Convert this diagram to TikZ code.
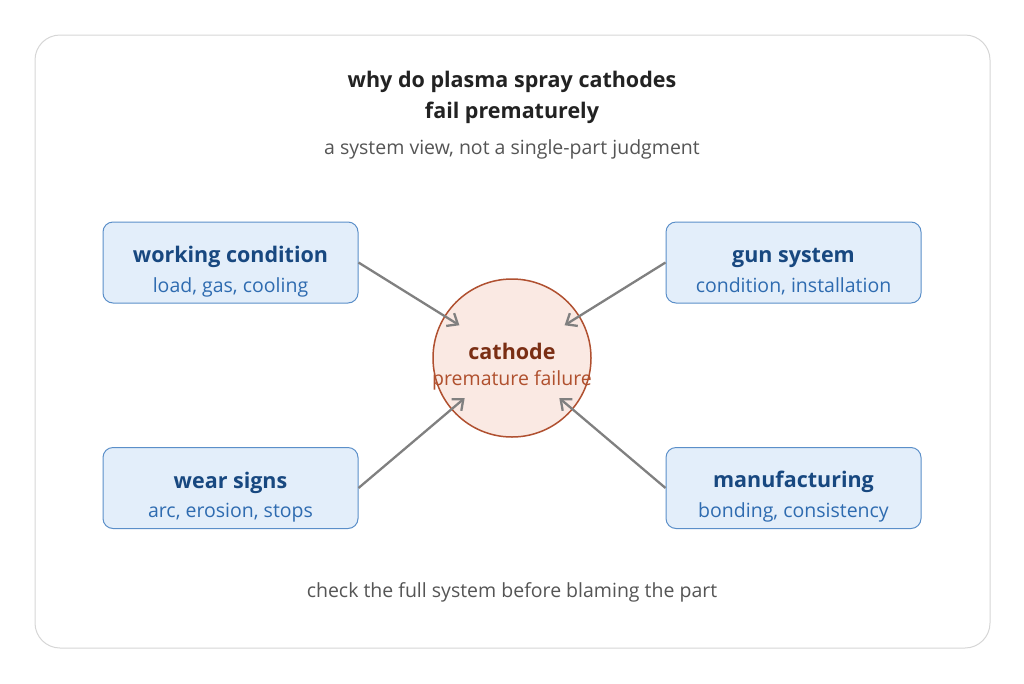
\documentclass[tikz,border=0pt]{standalone}
\usepackage{fontspec}
\setmainfont{Open Sans}
\usepackage{tikz}
\usetikzlibrary{arrows.meta,positioning,calc}
\usepackage{xcolor}
\definecolor{framegray}{RGB}{214,214,214}
\definecolor{titleink}{RGB}{34,34,34}
\definecolor{subink}{RGB}{85,85,85}
\definecolor{boxfill}{RGB}{227,238,250}
\definecolor{boxline}{RGB}{91,143,201}
\definecolor{boxhead}{RGB}{24,72,128}
\definecolor{boxtext}{RGB}{46,107,176}
\definecolor{corefill}{RGB}{250,233,227}
\definecolor{coreline}{RGB}{176,80,48}
\definecolor{corehead}{RGB}{122,46,20}
\definecolor{coretext}{RGB}{176,80,46}
\definecolor{linkgray}{RGB}{128,128,128}

\newcommand{\headfont}{\fontsize{21.5}{26}\selectfont\bfseries}
\newcommand{\subfont}{\fontsize{19.5}{24}\selectfont}

\tikzset{
  factor/.style={draw=boxline, fill=boxfill, line width=1pt, rounded corners=10pt,
    minimum width=255pt, minimum height=81pt, inner sep=0pt},
  core/.style={circle, draw=coreline, fill=corefill, line width=1.5pt,
    minimum size=158pt, inner sep=0pt},
  inside/.style={align=center, yshift=-9pt, inner sep=0pt},
  link/.style={draw=linkgray, line width=2.3pt, -{Straight Barb[length=9pt,width=15pt]},
    shorten >=62pt},
  head/.style={font=\headfont},
  sub/.style={font=\subfont}
}

\begin{document}
\begin{tikzpicture}[x=1pt,y=-1pt]
  \useasboundingbox (0,0) rectangle (1024,683);
  % outer card
  \draw[framegray, line width=1pt, fill=white, rounded corners=25pt] (35,35) rectangle (990,648);

  \node[head, text=titleink, align=center] (title) at (512,97.5)
    {why do plasma spray cathodes\\[5pt]fail prematurely};
  \node[sub, text=subink] (subtitle) at (512,149) {a system view, not a single-part judgment};

  \node[core, label={[inside]center:{\textcolor{corehead}{\headfont cathode}\\[10pt]
     \textcolor{coretext}{\subfont premature failure}}}] (cathode) at (512,358) {};

  \node[factor, label={[inside]center:{\textcolor{boxhead}{\headfont working condition}\\[9pt]
     \textcolor{boxtext}{\subfont load, gas, cooling}}}] (work) at (230.5,262.5) {};
  \node[factor, label={[inside]center:{\textcolor{boxhead}{\headfont gun system}\\[9pt]
     \textcolor{boxtext}{\subfont condition, installation}}}] (gun) at (793.5,262.5) {};
  \node[factor, label={[inside]center:{\textcolor{boxhead}{\headfont wear signs}\\[9pt]
     \textcolor{boxtext}{\subfont arc, erosion, stops}}}] (wear) at (230.5,488) {};
  \node[factor, label={[inside]center:{\textcolor{boxhead}{\headfont manufacturing}\\[9pt]
     \textcolor{boxtext}{\subfont bonding, consistency}}}] (make) at (793.5,488) {};

  \foreach \src in {work,wear}
    \draw[link] (\src.east) -- (cathode.center);
  \foreach \src in {gun,make}
    \draw[link] (\src.west) -- (cathode.center);

  \node[sub, text=subink] (footer) at (512,592) {check the full system before blaming the part};
\end{tikzpicture}
\end{document}
